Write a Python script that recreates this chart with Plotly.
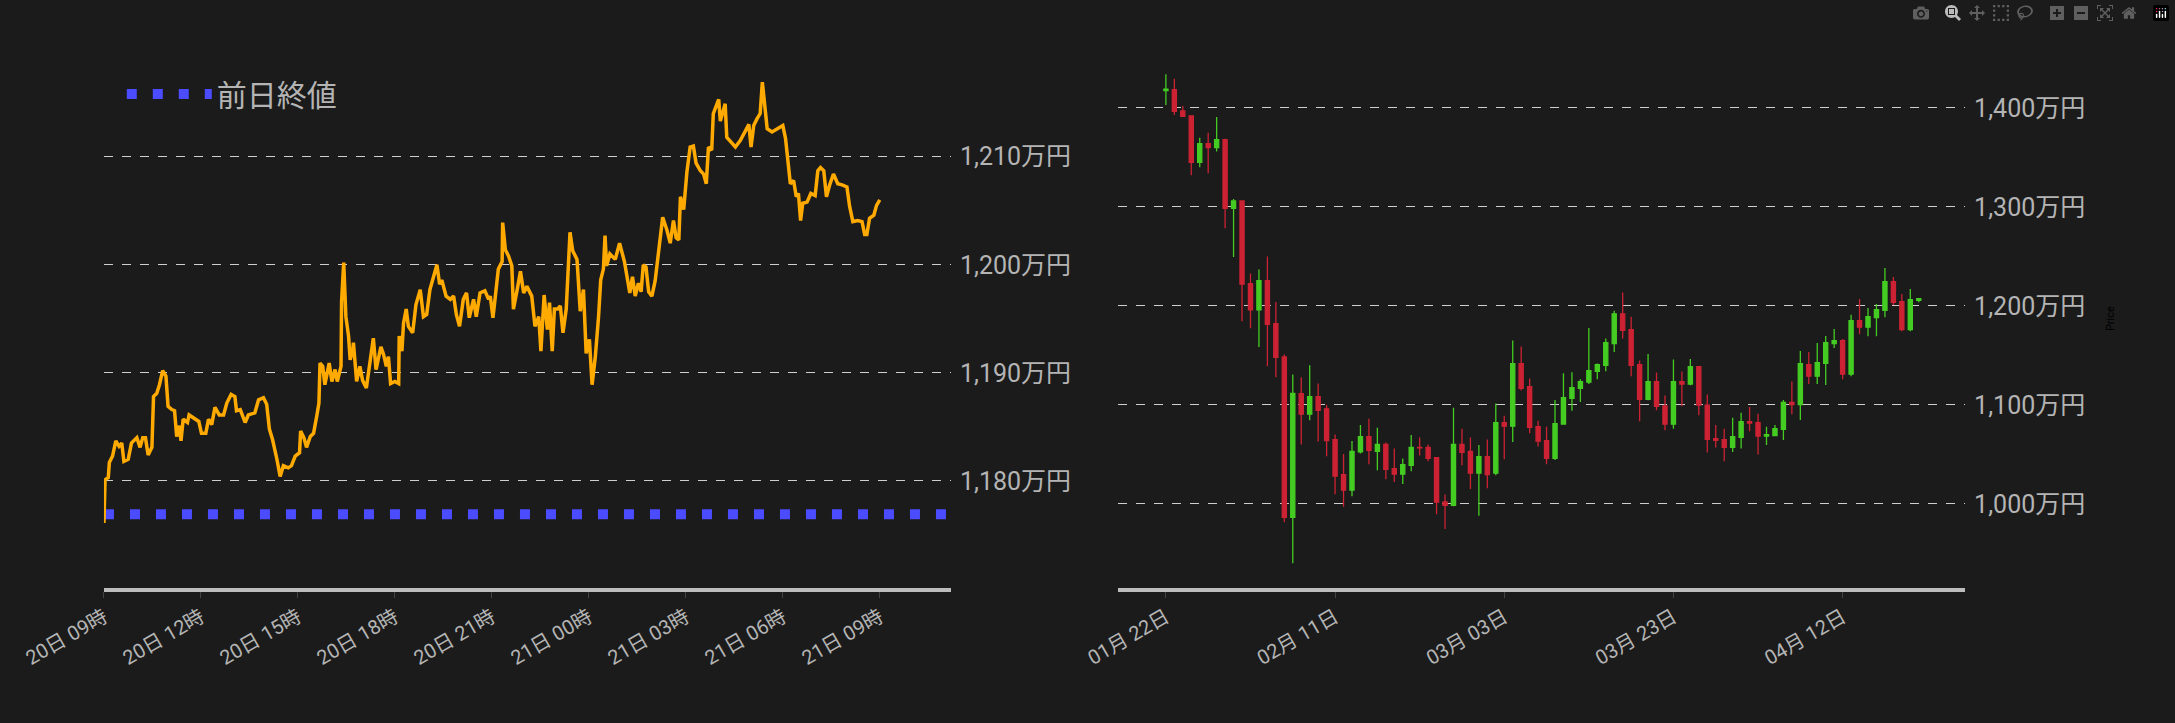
import plotly.graph_objects as go
import pandas as pd

# ---------------- intraday data (left) ----------------
intraday_minutes = [0,2,8,10,16,22,28,33,37,45,51,61,67,72,77,82,89,92,98,103,109,115,119,126,131,135,140,143,147,155,158,167,176,181,189,194,200,206,214,222,228,236,243,246,253,262,268,280,287,296,302,307,313,321,327,333,342,348,355,363,365,371,376,383,389,395,399,401,406,410,418,423,429,433,440,441,445,449,454,457,462,
    463,469,475,480,487,493,500,505,514,519,524,528,532,540,547,548,553,556,561,565,573,579,587,593,599,605,611,618,623,627,635,643,649,654,660,667,673,678,686,691,698,707,714,717,722,728,732,739,740,745,751,757,760,767,773,779,785,794,800,807,811,817,823,827,832,836,842,847,852,858,862,865,870,878,884,890,895,901,906,912,918,922,927,930,933,939,949,957,
    966,971,976,981,986,992,997,1001,1006,1011,1017,1023,1029,1037,1045,1051,1057,1062,1067,1070,1076,1082,1088,1094,1099,1107,1113,1118,1122,1128,1131,1138,1141,1144,1150,1153,1156,1162,1172,1181,1190,1197,1201,1206,1212,1218,1222,1226,1231,1240,1249,1260,1265,1270,1274,1280,1285,1289,1293,1297,1305,1312,1320,1325,1330,1336,1341,1347,1354,1362,1370,1379,1384,1390,1399,1407,1412,1416,1421,1429,1434,1440]
intraday_values = [1176.1,1180.1,1180.3,1181.7,1182.3,1183.7,1183.2,1183.5,1181.8,1182.0,1183.5,1184.0,1183.1,1184.0,1184.0,1182.4,1183.1,1187.8,1188.1,1188.9,1190.2,1189.7,1186.9,1186.6,1186.5,1184.1,1185.1,1183.7,1185.7,1185.4,1186.1,1185.8,1185.5,1184.4,1184.4,1185.7,1185.2,1186.8,1186.1,1186.1,1187.2,1188.0,1187.8,1186.5,1186.6,1185.4,1186.1,1186.3,1187.5,1187.7,1187.1,1184.8,1183.8,1182.0,1180.4,1181.4,1181.2,1181.4,1182.3,1182.6,1184.6,1184.0,1183.1,1184.1,1184.4,1186.0,1187.2,1190.9,1190.6,1188.9,1190.9,1189.2,1190.3,1189.2,1190.6,1196.6,1200.2,1195.2,1193.4,1191.2,1192.2,
    1192.8,1189.2,1190.6,1189.3,1188.6,1190.9,1193.2,1190.3,1192.4,1191.7,1190.6,1191.5,1189.0,1189.2,1189.0,1193.4,1192.0,1194.6,1195.9,1194.3,1193.7,1196.3,1197.7,1195.2,1195.4,1197.7,1198.9,1200.0,1198.2,1198.6,1197.1,1196.8,1197.1,1195.4,1194.3,1196.8,1197.4,1195.1,1196.8,1195.2,1197.4,1197.6,1196.8,1197.1,1195.1,1198.0,1199.6,1200.3,1203.9,1201.4,1200.8,1199.9,1195.9,1197.7,1199.4,1197.4,1198.0,1197.1,1194.3,1195.2,1192.0,1197.2,1194.0,1196.5,1192.0,1195.9,1195.9,1196.2,1193.7,1195.9,1199.6,1203.0,1201.3,1200.5,1195.7,1197.7,1191.8,1193.1,1188.9,1191.5,1195.2,1198.6,1199.6,1202.7,1199.9,1201.0,1200.5,1202.0,
    1200.3,1198.9,1197.4,1198.9,1197.1,1198.3,1197.5,1200.0,1199.8,1197.5,1197.1,1198.5,1200.8,1204.4,1203.2,1202.0,1204.1,1202.5,1202.3,1206.3,1205.1,1208.6,1210.9,1211.0,1209.4,1208.7,1208.4,1207.5,1210.9,1210.6,1214.0,1214.9,1215.3,1213.3,1214.3,1214.9,1211.8,1211.5,1210.9,1211.5,1212.3,1213.0,1210.9,1212.9,1213.5,1214.0,1216.9,1214.6,1212.6,1212.3,1212.6,1212.9,1211.7,1209.0,1207.5,1207.8,1206.3,1206.6,1204.1,1205.7,1205.8,1206.6,1206.4,1208.7,1209.0,1208.7,1206.3,1207.4,1208.4,1207.5,1207.4,1207.2,1205.4,1204.0,1204.1,1204.0,1202.8,1202.8,1204.3,1204.6,1205.5,1206.0]
intraday_start = "2025-04-20 09:00"
prev_close = 1176.9
prev_close_label = "前日終値"
left_yticks = [1180, 1190, 1200, 1210]
left_xticks = ["2025-04-20 09:00", "2025-04-20 12:00", "2025-04-20 15:00", "2025-04-20 18:00",
               "2025-04-20 21:00", "2025-04-21 00:00", "2025-04-21 03:00", "2025-04-21 06:00", "2025-04-21 09:00"]

# ---------------- daily candles (right) ----------------
candle_start = "2025-01-22"
opens = [1417.5,1418.5,1397,1392,1345,1364,1360,1368,1298.7,1306,1222.5,1196,1225.6,1182,1148.5,986.5,1111.4,1090.6,1108.4,1096,1065,1029.6,1013.8,1052.5,1068,1053,1060,1035.7,1030,1039,1057,1057,1046.8,1002,998.6,1060,1053,1031,1047.8,1031,1082,1078.5,1141.8,1118.5,1078,1064,1046,1080.5,1106.7,1116.8,1123,1134,1140,1162,1192,1176,1140.7,1105.7,1123.6,1099,1080.5,1123.6,1121,1138.7,1099.7,1066,1065,1057.2,1067.3,1083,1082,1068.4,1069,1075.4,1102.4,1100.3,1140.7,1129,1142,1162,1165,1131,1185,1178.5,1188.2,1195.6,1224.6,1204.4,1176,1205.7]
highs = [1434,1429.6,1402,1392,1370,1375,1391,1369,1308,1306,1232.7,1236.7,1250,1204,1151,1130.6,1128,1140,1121.5,1100,1070,1050.5,1063.6,1079.8,1086,1076.8,1062,1056,1045.8,1069.7,1067,1060,1046.8,1009.4,1097,1076,1067,1059.6,1065,1101.3,1089,1165,1159,1126.6,1084,1078,1105,1132,1133,1126,1177.8,1141.8,1167,1195,1213.5,1189,1144.8,1151.5,1132.7,1109.4,1145.8,1133.7,1146.5,1139.4,1110.4,1079.8,1075.8,1087,1092,1098,1091,1077.8,1079.8,1105,1123.6,1154.5,1153.5,1162.6,1169.7,1176.8,1166.7,1191,1207,1198,1202,1238.4,1229.3,1212,1217,1207.4]
lows = [1403,1393,1391,1332,1340,1334,1356,1278.5,1249.5,1184.5,1177.5,1158.6,1139,1128,981.5,940,1060,1084.5,1063,1048,1009.8,997,1007.7,1051,1040,1034,1025,1022,1020,1033,1049,1043,989.6,974.7,997.6,1039,1015,988,1015.8,1029,1045,1062.6,1114.5,1071.4,1058,1040,1044.4,1080.5,1094,1103,1121,1126,1134,1153.5,1167,1129,1083.5,1104.7,1094.6,1074.4,1075.8,1098.7,1119.9,1089.6,1052,1057,1043,1052.5,1056,1073.4,1050,1059.6,1068.4,1064.6,1090.6,1084.8,1121,1121,1120,1157.6,1126,1129,1171.4,1169.4,1169.4,1188.6,1201,1174.4,1174.4,1203.7]
closes = [1419,1396.6,1391.6,1345,1364,1360,1368,1298.7,1306,1222,1196,1225.6,1181.5,1148,986.5,1111.5,1090.6,1108.4,1094.6,1064,1028,1013.8,1052.9,1068,1054,1060,1035,1030,1039.7,1057,1056.5,1046,1001.7,998.6,1060,1052,1031,1047.8,1029.6,1082,1078.5,1141.8,1116.8,1077.4,1063.3,1046,1081,1107.4,1117.5,1123.6,1134.7,1140.7,1163,1192,1175.4,1140,1105.7,1123.6,1098.6,1080.5,1123.6,1121,1138.7,1099.7,1065.3,1064.3,1057.2,1068,1083,1081.5,1068.4,1070,1076,1102.4,1100.3,1141.8,1129,1142.8,1163,1165,1131,1185,1178.5,1189.2,1196.3,1224.6,1203.7,1176,1206.4,1207.4]
right_yticks = [1000, 1100, 1200, 1300, 1400]
right_xticks = ["2025-01-22", "2025-02-11", "2025-03-03", "2025-03-23", "2025-04-12"]
y_suffix = "万円"

# ---------------- build ----------------
t0 = pd.Timestamp(intraday_start)
times = [t0 + pd.Timedelta(minutes=m) for m in intraday_minutes]
left_xrange = [t0, t0 + pd.Timedelta(minutes=1572)]
days = pd.date_range(candle_start, periods=len(opens), freq="D")
right_xrange = [pd.Timestamp("2025-01-16 08:00"), pd.Timestamp("2025-04-26 11:30")]

BG = "#1b1b1b"
TICK = "#b4b4b4"
GRID = "#cfcfcf"

fig = go.Figure()
fig.add_trace(go.Scatter(x=left_xrange, y=[prev_close, prev_close], mode="lines",
                         name=prev_close_label, line=dict(color="#4b4bff", width=10, dash="10px,16px"),
                         xaxis="x", yaxis="y"))
fig.add_trace(go.Scatter(x=times, y=intraday_values, mode="lines", showlegend=False,
                         line=dict(color="#ffaa00", width=3.5), xaxis="x", yaxis="y"))
fig.add_trace(go.Candlestick(x=days, open=opens, high=highs, low=lows, close=closes,
                             increasing=dict(line=dict(color="#44cc22", width=1.3), fillcolor="#44cc22"),
                             decreasing=dict(line=dict(color="#cc2233", width=1.3), fillcolor="#cc2233"),
                             whiskerwidth=0, showlegend=False, xaxis="x2", yaxis="y2"))

ydom = [0.187, 0.964]
common_x = dict(showgrid=False, showline=True, linecolor="#bdbdbd", linewidth=4, ticks="outside",
                ticklen=6, tickcolor="#444", tickangle=-30, tickfont=dict(size=20, color=TICK),
                zeroline=False, automargin=False)
common_y = dict(side="right", showgrid=True, gridcolor=GRID, griddash="dash", gridwidth=1,
                tickfont=dict(size=25, color=TICK), automargin=False,
                zeroline=False, showline=False, ticks="", ticklabelstandoff=8)

fig.update_layout(
    width=2175, height=723, paper_bgcolor=BG, plot_bgcolor=BG,
    margin=dict(l=0, r=0, t=0, b=0, autoexpand=False),
    font=dict(family="Roboto, Noto Sans CJK JP, sans-serif"),
    xaxis=dict(domain=[0.0478, 0.4372], range=left_xrange, tickvals=left_xticks,
               tickformat="%d日 %H時", anchor="y", **common_x),
    yaxis=dict(domain=ydom, range=[1170.1, 1222.1], tickvals=left_yticks,
               ticktext=[f"{v:,}{y_suffix}" for v in left_yticks], anchor="x", **common_y),
    xaxis2=dict(domain=[0.514, 0.9035], range=right_xrange, tickvals=right_xticks,
                tickformat="%m月 %d日", anchor="y2", rangeslider=dict(visible=False), **common_x),
    yaxis2=dict(domain=ydom, range=[915.2, 1482.8], tickvals=right_yticks,
                ticktext=[f"{v:,}{y_suffix}" for v in right_yticks], anchor="x2", **common_y),
    legend=dict(x=0.056, y=0.87, xanchor="left", yanchor="middle", bgcolor="rgba(0,0,0,0)",
                font=dict(size=30, color=TICK), itemwidth=85),
    annotations=[dict(text="Price", x=0.974, y=0.56, xref="paper", yref="paper", showarrow=False,
                      textangle=-90, font=dict(size=11, color="#000000"))],
)

fig.write_html("out.html", post_script="document.body.style.margin='0';")
